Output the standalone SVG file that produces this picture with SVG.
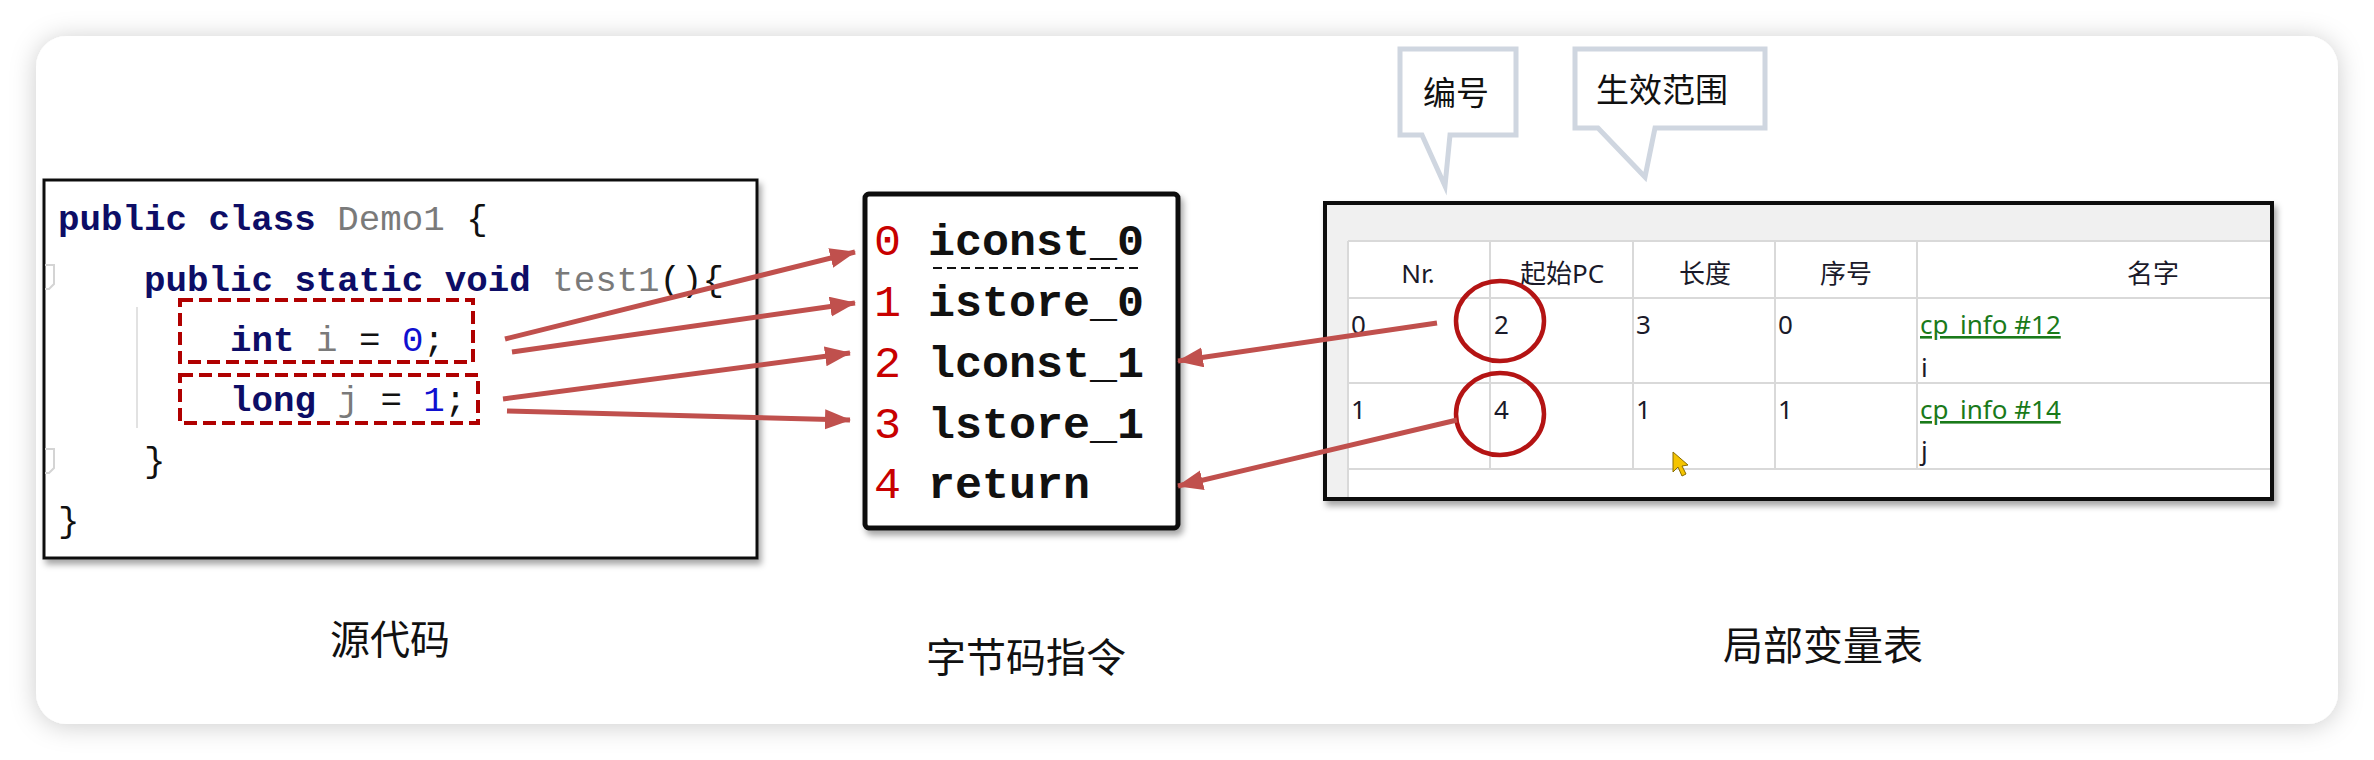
<svg xmlns="http://www.w3.org/2000/svg" width="2374" height="760" viewBox="0 0 2374 760">
  <style>
    .code { font-family: "Liberation Mono", "DejaVu Sans Mono", monospace; font-size: 35.8px; fill: #111; }
    .kw { font-weight: bold; fill: #0d0d66; }
    .id { fill: #7a7a7a; }
    .num { fill: #1010d0; }
    .bc { font-family: "Liberation Mono", "DejaVu Sans Mono", monospace; font-size: 45px; font-weight: bold; fill: #111; }
    .bcn { font-weight: normal; fill: #c80000; }
    .tbl { font-family: "Noto Sans", "Noto Sans CJK SC", sans-serif; font-size: 26px; fill: #1a1a2a; }
    .hd { text-anchor: middle; }
    .lnk { fill: #1a7a1a; text-decoration: underline; }
    .lbl { font-family: "Noto Sans CJK SC", "Noto Sans", sans-serif; font-size: 40px; fill: #111; text-anchor: middle; }
    .call { font-family: "Noto Sans CJK SC", "Noto Sans", sans-serif; font-size: 33px; fill: #111; text-anchor: middle; }
    .grid { stroke: #d9d9d9; stroke-width: 2; fill: none; }
    .arrow { stroke: #c0504d; stroke-width: 5; fill: none; marker-end: url(#ah); }
    .dashbox { fill: none; stroke: #b00000; stroke-width: 4; stroke-dasharray: 13 6; }
    .circ { fill: none; stroke: #b41414; stroke-width: 4.5; }
    .bubble { fill: #fff; stroke: #cfd6e0; stroke-width: 5; stroke-linejoin: miter; }
  </style>
  <defs>
    <filter id="cardShadow" x="-5%" y="-10%" width="110%" height="120%">
      <feDropShadow dx="0" dy="2" stdDeviation="13" flood-color="#000" flood-opacity="0.2"/>
    </filter>
    <filter id="boxShadow" x="-5%" y="-5%" width="112%" height="115%">
      <feDropShadow dx="3" dy="5" stdDeviation="3" flood-color="#000" flood-opacity="0.35"/>
    </filter>
    <marker id="ah" markerUnits="userSpaceOnUse" markerWidth="28" markerHeight="22" refX="25" refY="10" orient="auto">
      <path d="M0,0 L26,10 L0,20 Z" fill="#c0504d"/>
    </marker>
  </defs>

  <rect x="0" y="0" width="2374" height="760" fill="#ffffff"/>
  <rect id="card" x="36" y="36" width="2302" height="688" rx="31" ry="31" fill="#ffffff" filter="url(#cardShadow)"/>

  <!-- Source code node -->
  <g id="source-code">
    <rect x="44" y="180" width="713" height="378" fill="#fff" stroke="#111" stroke-width="3" filter="url(#boxShadow)"/>
    <path d="M45,265 H54 V284 L49,289 H45" fill="none" stroke="#d4d4d4" stroke-width="2"/>
    <path d="M45,449 H54 V468 L49,473 H45" fill="none" stroke="#d4d4d4" stroke-width="2"/>
    <line x1="137" y1="307" x2="137" y2="428" stroke="#e2e2e2" stroke-width="2"/>
    <text class="code" x="58" y="230"><tspan class="kw">public</tspan> <tspan class="kw">class</tspan> <tspan class="id">Demo1</tspan> {</text>
    <text class="code" x="144" y="291"><tspan class="kw">public</tspan> <tspan class="kw">static</tspan> <tspan class="kw">void</tspan> <tspan class="id">test1</tspan>(){</text>
    <text class="code" x="230" y="351"><tspan class="kw">int</tspan> <tspan class="id">i</tspan> = <tspan class="num">0</tspan>;</text>
    <text class="code" x="230" y="411"><tspan class="kw">long</tspan> <tspan class="id">j</tspan> = <tspan class="num">1</tspan>;</text>
    <text class="code" x="144" y="472">}</text>
    <text class="code" x="58" y="532">}</text>
    <rect class="dashbox" x="180" y="300" width="293" height="62"/>
    <rect class="dashbox" x="180" y="375" width="298" height="48"/>
    <text class="lbl" x="390" y="654">源代码</text>
  </g>

  <!-- Bytecode node -->
  <g id="bytecode">
    <rect x="865" y="194" width="313" height="334" rx="4" fill="#fff" stroke="#111" stroke-width="5" filter="url(#boxShadow)"/>
    <text class="bc" x="874" y="255"><tspan class="bcn">0</tspan> iconst_0</text>
    <line x1="933" y1="268" x2="1140" y2="268" stroke="#111" stroke-width="2" stroke-dasharray="9 5"/>
    <text class="bc" x="874" y="316"><tspan class="bcn">1</tspan> istore_0</text>
    <text class="bc" x="874" y="377"><tspan class="bcn">2</tspan> lconst_1</text>
    <text class="bc" x="874" y="438"><tspan class="bcn">3</tspan> lstore_1</text>
    <text class="bc" x="874" y="498"><tspan class="bcn">4</tspan> return</text>
    <text class="lbl" x="1026" y="672">字节码指令</text>
  </g>

  <!-- Local variable table node -->
  <g id="local-variable-table">
    <rect x="1325" y="203" width="947" height="296" fill="#f0f0f0" stroke="#111" stroke-width="4" filter="url(#boxShadow)"/>
    <rect x="1348" y="241" width="922" height="256" fill="#fff"/>
    <path class="grid" d="M1348,241 H2270 M1348,298 H2270 M1348,383 H2270 M1348,469 H2270 M1348,241 V497 M1490,241 V469 M1633,241 V469 M1775,241 V469 M1917,241 V469"/>
    <text class="tbl hd" x="1418" y="283">Nr.</text>
    <text class="tbl hd" x="1562" y="283">起始PC</text>
    <text class="tbl hd" x="1705" y="283">长度</text>
    <text class="tbl hd" x="1846" y="283">序号</text>
    <text class="tbl hd" x="2153" y="283">名字</text>
    <text class="tbl" x="1351" y="334">0</text>
    <text class="tbl" x="1494" y="334">2</text>
    <text class="tbl" x="1636" y="334">3</text>
    <text class="tbl" x="1778" y="334">0</text>
    <text class="tbl lnk" x="1920" y="334">cp_info #12</text>
    <text class="tbl" x="1921" y="377">i</text>
    <text class="tbl" x="1351" y="419">1</text>
    <text class="tbl" x="1494" y="419">4</text>
    <text class="tbl" x="1636" y="419">1</text>
    <text class="tbl" x="1778" y="419">1</text>
    <text class="tbl lnk" x="1920" y="419">cp_info #14</text>
    <text class="tbl" x="1921" y="460">j</text>
    <polygon points="1673,452 1673,472 1678,467 1682,476 1686,474 1682,466 1688,465" fill="#f5c400" stroke="#8a6d00" stroke-width="1"/>
    <ellipse class="circ" cx="1500" cy="321" rx="44" ry="40"/>
    <ellipse class="circ" cx="1500" cy="414" rx="44" ry="41"/>
    <text class="lbl" x="1823" y="660">局部变量表</text>
  </g>

  <!-- Callouts -->
  <g id="callout-number">
    <path class="bubble" d="M1400,49 H1516 V135 H1450 L1445,186 L1422,135 H1400 Z"/>
    <text class="call" x="1456" y="105">编号</text>
  </g>
  <g id="callout-range">
    <path class="bubble" d="M1575,49 H1765 V128 H1655 L1645,177 L1598,128 H1575 Z"/>
    <text class="call" x="1662" y="102">生效范围</text>
  </g>

  <!-- Connectors -->
  <g id="connectors">
    <line class="arrow" x1="505" y1="339" x2="855" y2="252"/>
    <line class="arrow" x1="512" y1="352" x2="855" y2="303"/>
    <line class="arrow" x1="503" y1="399" x2="850" y2="353"/>
    <line class="arrow" x1="507" y1="411" x2="850" y2="420"/>
    <line class="arrow" x1="1437" y1="323" x2="1178" y2="361"/>
    <line class="arrow" x1="1457" y1="420" x2="1178" y2="486"/>
  </g>
</svg>
